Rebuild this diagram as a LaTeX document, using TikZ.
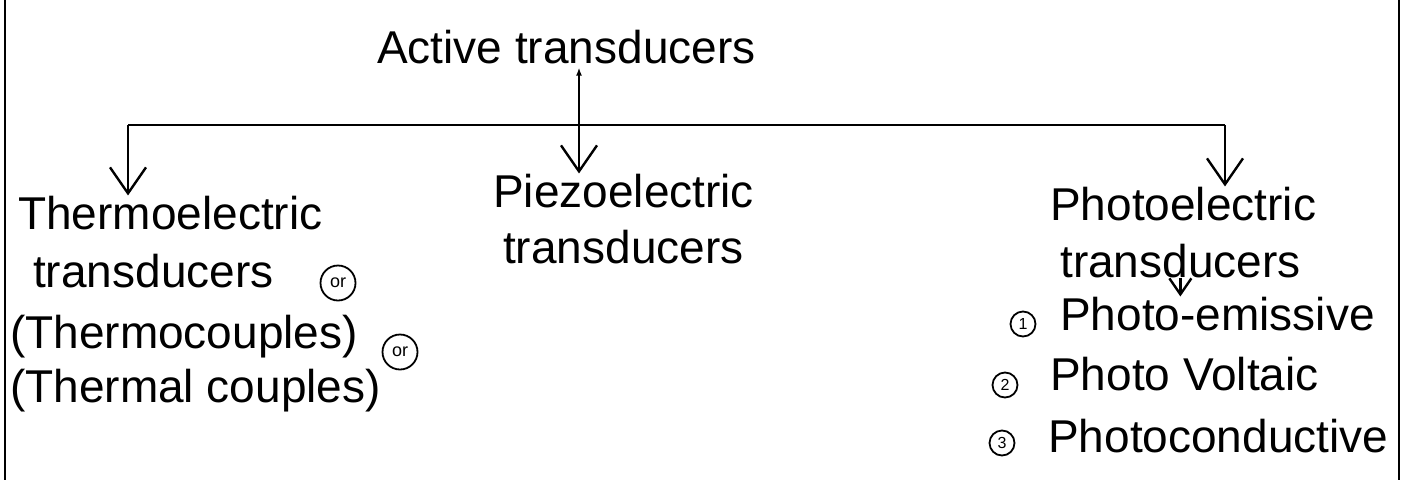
\documentclass[tikz,border=0pt]{standalone}
\usepackage{fontspec}
\setmainfont{Liberation Sans}
\usetikzlibrary{arrows.meta}
\begin{document}
\begin{tikzpicture}[x=1pt,y=1pt,yscale=-1,xscale=1,
    lbl/.style={font=\fontsize{46}{52}\selectfont, inner sep=0pt, anchor=base west},
    num/.style={circle, draw, line width=1.8pt, inner sep=0pt, minimum size=25pt, font=\fontsize{16}{16}\selectfont},
    orring/.style={circle, draw, line width=1.8pt, inner sep=0pt, minimum size=35pt, font=\fontsize{18}{18}\selectfont},
    wire/.style={line width=2.4pt},
    arr/.style={wire, -{Straight Barb[length=26pt,width=36pt,line width=2.4pt]}},
    both/.style={wire, {Latex[length=8pt,width=6pt]}-{Straight Barb[length=26pt,width=36pt,line width=2.4pt]}},
    smallarr/.style={wire, -{Straight Barb[length=16pt,width=22pt,line width=2.4pt]}}]
        \useasboundingbox (0,0) rectangle (1402,480);
        % side rules of the page
        \draw [wire] (5,0) -- (5,480) ;
        \draw [wire] (1399,0) -- (1399,480) ;
        % top
        \node [lbl] (title) at (377,63) {Active transducers};
        \coordinate (bar-l) at (128,125);
        \coordinate (bar-r) at (1225,125);
        % left branch
        \node [lbl] (thermo1) at (18,229) {Thermoelectric};
        \node [lbl] (thermo2) at (33,287) {transducers};
        \node [orring] (or1) at (338,283) {or};
        \node [lbl] (thermo3) at (10,348) {(Thermocouples)};
        \node [orring] (or2) at (400,352) {or};
        \node [lbl] (thermo4) at (10,402) {(Thermal couples)};
        % middle branch
        \node [lbl] (piezo1) at (493,207) {Piezoelectric};
        \node [lbl] (piezo2) at (503,263) {transducers};
        % right branch
        \node [lbl] (photo1) at (1050,220) {Photoelectric};
        \node [lbl] (photo2) at (1060,277) {transducers};
        \node [num] (n1) at (1023,324) {1};
        \node [lbl] (pe1) at (1060,330) {Photo-emissive};
        \node [num] (n2) at (1005,385) {2};
        \node [lbl] (pe2) at (1050,390) {Photo Voltaic};
        \node [num] (n3) at (1002,443) {3};
        \node [lbl] (pe3) at (1048,452) {Photoconductive};
        % connectors
        \draw [wire] (bar-l) -- (bar-r) ;
        \draw [both] ([yshift=4pt]title.south -| 579,0) -- (piezo1.north -| 579,0) ;
        \draw [arr] (bar-l) -- (bar-l |- thermo1.north) ;
        \draw [arr] (bar-r) -- (bar-r |- photo1.north) ;
        \draw [smallarr] (photo2.south) -- (photo2.south |- pe1.north) ;
\end{tikzpicture}
\end{document}
